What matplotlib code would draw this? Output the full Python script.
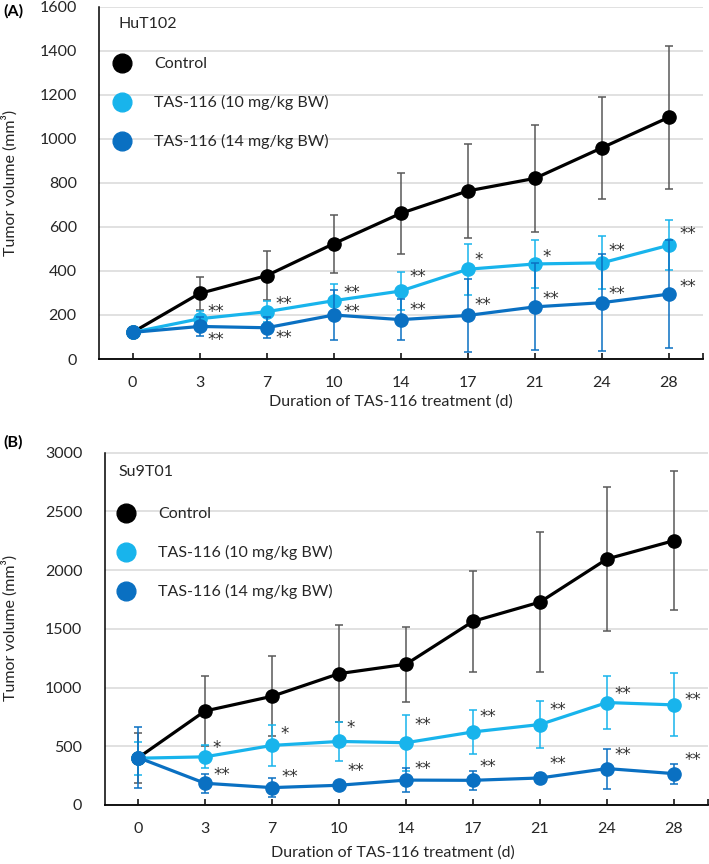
import numpy as np
import matplotlib
matplotlib.use("Agg")
import matplotlib.pyplot as plt
from matplotlib.lines import Line2D
from matplotlib.ticker import MultipleLocator, FixedLocator

plt.rcParams['font.family'] = ['Lato', 'DejaVu Sans']

# ---------------- data ----------------
days = ["0", "3", "7", "10", "14", "17", "21", "24", "28"]
series_names = ["Control", "TAS-116 (10 mg/kg BW)", "TAS-116 (14 mg/kg BW)"]

# Panel A : HuT102
ctrl_A = [121, 298, 379, 524, 662, 764, 821, 960, 1099]
ctrl_A_err = [6, 73, 110, 132, 184, 215, 243, 232, 325]
lb_A = [121, 183, 215, 265, 309, 408, 432, 437, 517]
lb_A_err = [5, 34, 49, 77, 86, 117, 108, 120, 113]
db_A = [121, 148, 142, 200, 179, 198, 237, 256, 295]
db_A_err = [5, 45, 47, 115, 94, 166, 198, 220, 247]
lb_A_sig = ["", "**", "**", "**", "**", "*", "*", "**", "**"]
db_A_sig = ["", "**", "**", "**", "**", "**", "**", "**", "**"]

# Panel B : Su9T01
ctrl_B = [401, 800, 925, 1118, 1198, 1563, 1727, 2094, 2250]
ctrl_B_err = [213, 300, 340, 415, 320, 430, 595, 610, 590]
lb_B = [398, 410, 507, 541, 530, 622, 685, 872, 852]
lb_B_err = [142, 97, 175, 165, 238, 188, 196, 228, 268]
db_B = [404, 185, 148, 168, 212, 210, 230, 310, 267]
db_B_err = [262, 83, 80, 30, 100, 80, 45, 170, 85]
lb_B_sig = ["", "*", "*", "*", "**", "**", "**", "**", "**"]
db_B_sig = ["", "**", "**", "**", "**", "**", "**", "**", "**"]

# ---------------- styles / layout ----------------
BLACK = "#000000"
GRAY = "#595959"
LIGHT = "#18B4EC"
DARK = "#0A70C2"
FS = 11.5

# star offsets in pixels (dx, dy up)
lb_A_off = [(0, 0), (16, 11), (17, 12), (18, 12), (17, 18), (11, 13), (12, 11), (15, 16), (19, 15)]
db_A_off = [(0, 0), (16, -10), (17, -6), (18, 7), (17, 14), (15, 14), (16, 12), (15, 13), (19, 11)]
lb_B_off = [(0, 0), (12, 13), (13, 15), (12, 17), (17, 22), (15, 19), (18, 19), (16, 13), (19, 9)]
db_B_off = [(0, 0), (17, 12), (18, 15), (17, 18), (17, 15), (15, 17), (18, 18), (16, 18), (19, 18)]

W, H = 709, 864
fig = plt.figure(figsize=(W / 100, H / 100), dpi=100)


def px_axes(l, t, r, b):
    return [l / W, 1 - b / H, (r - l) / W, (b - t) / H]


axA = fig.add_axes(px_axes(99, 7, 702.5, 359))
axB = fig.add_axes(px_axes(104.5, 452.5, 707.5, 805))


def draw(ax, ctrl, ctrl_err, lb, lb_err, db, db_err, lb_sig, db_sig, lb_off, db_off,
         ymax, ystep, name, name_xy, leg_anchor, xlab_xy):
    x = np.arange(len(days))
    ax.errorbar(x, ctrl, yerr=ctrl_err, color=BLACK, ecolor=GRAY, elinewidth=1.1,
                capsize=2.6, capthick=1.1, marker='o', ms=9.5, lw=2.3, zorder=3)
    ax.errorbar(x, lb, yerr=lb_err, color=LIGHT, ecolor=LIGHT, elinewidth=1.1,
                capsize=2.6, capthick=1.1, marker='o', ms=9.5, lw=2.3, zorder=4)
    ax.errorbar(x, db, yerr=db_err, color=DARK, ecolor=DARK, elinewidth=1.1,
                capsize=2.6, capthick=1.1, marker='o', ms=9.5, lw=2.3, zorder=5)
    for vals, sig, off in ((lb, lb_sig, lb_off), (db, db_sig, db_off)):
        for i, (v, s) in enumerate(zip(vals, sig)):
            if s:
                ax.annotate(s, (x[i], v), xytext=(off[i][0], off[i][1] - 4),
                            textcoords='offset pixels', ha='center', va='center',
                            fontsize=12, family='DejaVu Sans', color='#303030', zorder=6)
    ax.set_xlim(-0.5, len(days) - 0.5)
    ax.set_ylim(0, ymax)
    ax.yaxis.set_major_locator(MultipleLocator(ystep))
    ax.set_xticks(x)
    ax.set_xticklabels(days)
    ax.xaxis.set_minor_locator(FixedLocator([len(days) - 0.5]))
    ax.tick_params(axis='x', which='both', direction='in', length=4, width=1.1,
                   pad=12, labelsize=FS, colors='#262626')
    ax.tick_params(axis='x', which='both', color='black')
    ax.tick_params(axis='y', length=0, pad=16, labelsize=FS, labelcolor='#262626')
    ax.grid(axis='y', color='#D9D9D9', lw=1.1, zorder=0)
    ax.set_axisbelow(True)
    for s in ('top', 'right'):
        ax.spines[s].set_visible(False)
    ax.spines['left'].set_linewidth(1.1)
    ax.spines['bottom'].set_linewidth(1.3)
    ax.text(name_xy[0], name_xy[1], name, transform=ax.transAxes, ha='left', va='center',
            fontsize=FS, color='#262626')
    handles = [Line2D([], [], ls='none', marker='o', ms=13.5, color=c) for c in (BLACK, LIGHT, DARK)]
    ax.legend(handles, series_names, loc='upper left', bbox_to_anchor=leg_anchor,
              frameon=False, borderpad=0, borderaxespad=0, handlelength=1.0,
              handletextpad=1.5, labelspacing=1.5, fontsize=FS, labelcolor='#262626')
    ax.text(xlab_xy[0], xlab_xy[1], "Duration of TAS-116 treatment (d)", transform=ax.transAxes,
            ha='center', va='center', fontsize=FS, color='#262626')


def ax_coords(ax_px, px):
    l, t, r, b = ax_px
    return ((px[0] - l) / (r - l), (b - px[1]) / (b - t))


A_px = (99, 7, 702.5, 359)
B_px = (104.5, 452.5, 707.5, 805)

draw(axA, ctrl_A, ctrl_A_err, lb_A, lb_A_err, db_A, db_A_err, lb_A_sig, db_A_sig,
     lb_A_off, db_A_off, 1600, 200, "HuT102",
     ax_coords(A_px, (119, 24)), ax_coords(A_px, (114.5, 57)), ax_coords(A_px, (391, 401.5)))
draw(axB, ctrl_B, ctrl_B_err, lb_B, lb_B_err, db_B, db_B_err, lb_B_sig, db_B_sig,
     lb_B_off, db_B_off, 3000, 500, "Su9T01",
     ax_coords(B_px, (118.5, 472)), ax_coords(B_px, (118, 507)), ax_coords(B_px, (393, 853)))

fig.text(10 / W, 1 - 183 / H, "Tumor volume (mm³)", rotation=90, ha='center', va='center',
         fontsize=FS, color='#262626')
fig.text(10 / W, 1 - 628 / H, "Tumor volume (mm³)", rotation=90, ha='center', va='center',
         fontsize=FS, color='#262626')
fig.text(3 / W, 1 - 11 / H, "(A)", ha='left', va='center', fontsize=FS, fontweight='bold')
fig.text(3 / W, 1 - 442 / H, "(B)", ha='left', va='center', fontsize=FS, fontweight='bold')

fig.savefig("out.png", dpi=100)
